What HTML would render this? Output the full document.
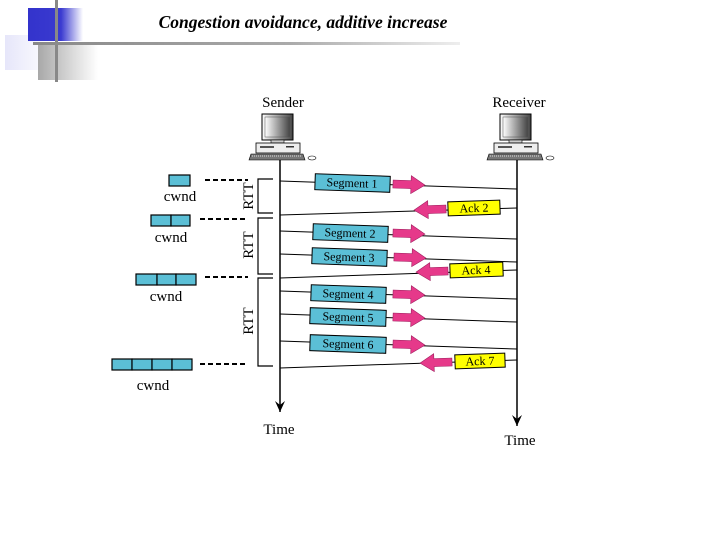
<!DOCTYPE html>
<html><head><meta charset="utf-8"><style>
html,body{margin:0;padding:0;background:#fff;width:720px;height:540px;overflow:hidden}
svg{display:block}
text{font-family:"Liberation Serif",serif}
</style></head><body>
<svg width="720" height="540" viewBox="0 0 720 540" xmlns="http://www.w3.org/2000/svg">
<defs>
<linearGradient id="gb" x1="0" x2="1"><stop offset="0" stop-color="#3333cc"/><stop offset="0.6" stop-color="#3a3ad0"/><stop offset="1" stop-color="#fff"/></linearGradient>
<linearGradient id="gl" x1="0" x2="1"><stop offset="0" stop-color="#e6e6fa"/><stop offset="1" stop-color="#fff"/></linearGradient>
<linearGradient id="gg" x1="0" x2="1"><stop offset="0" stop-color="#a8a8a8"/><stop offset="1" stop-color="#fff"/></linearGradient>
<linearGradient id="gh" x1="0" x2="1"><stop offset="0" stop-color="#888"/><stop offset="0.6" stop-color="#aaa"/><stop offset="1" stop-color="#eee"/></linearGradient>
<linearGradient id="mon" x1="0" x2="1"><stop offset="0" stop-color="#fff"/><stop offset="1" stop-color="#444"/></linearGradient>
<marker id="ah" markerWidth="12" markerHeight="10" refX="11" refY="5" orient="auto" markerUnits="userSpaceOnUse"><path d="M0,0 L11,5 L0,10 L4,5 Z" fill="#000"/></marker>
<g id="pc">
<rect x="0" y="0" width="31" height="26" fill="url(#mon)" stroke="#000"/>
<rect x="3" y="3" width="25" height="20" fill="url(#mon)" stroke="#555" stroke-width="0.5"/>
<rect x="9" y="26" width="13" height="3" fill="#ccc" stroke="#000" stroke-width="0.6"/>
<rect x="-6" y="29" width="44" height="10" fill="#eee" stroke="#000" stroke-width="0.8"/>
<rect x="-2" y="32" width="14" height="2" fill="#555"/>
<rect x="24" y="32" width="8" height="1.5" fill="#333"/>
<path d="M-11,40 L41,40 L43,46 L-13,46 Z" fill="#777" stroke="#000" stroke-width="0.6"/>
<path d="M-10,42 H40" stroke="#ddd" stroke-dasharray="1 1"/>
<ellipse cx="50" cy="44" rx="4" ry="2" fill="#fff" stroke="#000" stroke-width="0.6"/>
</g>
<g id="pr"><path d="M0,-4 H18 V-9 L32,0 L18,9 V4 H0 Z" fill="#e6398a" stroke="#a02060" stroke-width="0.6"/></g>
</defs>

<rect x="5" y="35" width="48" height="35" fill="url(#gl)"/>
<rect x="38" y="45" width="60" height="35" fill="url(#gg)"/>
<rect x="28" y="8" width="55" height="33" fill="url(#gb)"/>
<rect x="55" y="0" width="3" height="82" fill="#888"/>
<rect x="33" y="42" width="427" height="3" fill="url(#gh)"/>
<text x="303" y="28" font-size="17.5" font-weight="bold" font-style="italic" text-anchor="middle">Congestion avoidance, additive increase</text>

<use href="#pc" x="262" y="114"/>
<use href="#pc" x="500" y="114"/>
<text x="283" y="107" font-size="15" text-anchor="middle">Sender</text>
<text x="519" y="107" font-size="15" text-anchor="middle">Receiver</text>

<line x1="280" y1="160" x2="280" y2="412" stroke="#000" stroke-width="1.5" marker-end="url(#ah)"/>
<line x1="517" y1="160" x2="517" y2="426" stroke="#000" stroke-width="1.5" marker-end="url(#ah)"/>
<text x="279" y="434" font-size="15" text-anchor="middle">Time</text>
<text x="520" y="445" font-size="15" text-anchor="middle">Time</text>

<g stroke="#000" stroke-width="1">
<line x1="280" y1="181" x2="517" y2="189"/>
<line x1="517" y1="208" x2="280" y2="215"/>
<line x1="280" y1="231" x2="517" y2="239"/>
<line x1="280" y1="254" x2="517" y2="262"/>
<line x1="517" y1="270" x2="280" y2="278"/>
<line x1="280" y1="291" x2="517" y2="299"/>
<line x1="280" y1="314" x2="517" y2="322"/>
<line x1="280" y1="341" x2="517" y2="349"/>
<line x1="517" y1="360" x2="280" y2="368"/>
</g>

<g font-size="12" text-anchor="middle">
<g transform="rotate(2 352 184)"><rect x="315" y="175" width="75" height="16" fill="#5bbfd6" stroke="#000"/><text x="352" y="187">Segment 1</text></g>
<g transform="rotate(2 350 233)"><rect x="313" y="225" width="75" height="16" fill="#5bbfd6" stroke="#000"/><text x="350" y="237">Segment 2</text></g>
<g transform="rotate(2 349 257)"><rect x="312" y="249" width="75" height="16" fill="#5bbfd6" stroke="#000"/><text x="349" y="261">Segment 3</text></g>
<g transform="rotate(2 348 294)"><rect x="311" y="286" width="75" height="16" fill="#5bbfd6" stroke="#000"/><text x="348" y="298">Segment 4</text></g>
<g transform="rotate(2 348 317)"><rect x="310" y="309" width="76" height="16" fill="#5bbfd6" stroke="#000"/><text x="348" y="321">Segment 5</text></g>
<g transform="rotate(2 348 344)"><rect x="310" y="336" width="76" height="16" fill="#5bbfd6" stroke="#000"/><text x="348" y="348">Segment 6</text></g>

<g transform="rotate(-2 474 208)"><rect x="448" y="201" width="52" height="14" fill="#ffff00" stroke="#000"/><text x="474" y="212">Ack 2</text></g>
<g transform="rotate(-2 476 270)"><rect x="450" y="263" width="53" height="14" fill="#ffff00" stroke="#000"/><text x="476" y="274">Ack 4</text></g>
<g transform="rotate(-2 480 361)"><rect x="455" y="354" width="50" height="14" fill="#ffff00" stroke="#000"/><text x="480" y="365">Ack 7</text></g>
</g>

<use href="#pr" transform="translate(393,184) rotate(2)"/>
<use href="#pr" transform="translate(393,233) rotate(2)"/>
<use href="#pr" transform="translate(394,257) rotate(2)"/>
<use href="#pr" transform="translate(393,294) rotate(2)"/>
<use href="#pr" transform="translate(393,317) rotate(2)"/>
<use href="#pr" transform="translate(393,344) rotate(2)"/>
<use href="#pr" transform="translate(446,209) rotate(178)"/>
<use href="#pr" transform="translate(448,271) rotate(178)"/>
<use href="#pr" transform="translate(452,362) rotate(178)"/>

<g stroke="#000" stroke-width="1.2" fill="none">
<path d="M273,179 H258 V213 H273"/>
<path d="M273,218 H258 V274 H273"/>
<path d="M273,278 H258 V366 H273"/>
</g>
<g font-size="15" text-anchor="middle">
<text transform="translate(253,196) rotate(-90)">RTT</text>
<text transform="translate(253,245) rotate(-90)">RTT</text>
<text transform="translate(253,321) rotate(-90)">RTT</text>
</g>

<g fill="#5bbfd6" stroke="#000" stroke-width="1.2">
<rect x="169" y="175" width="21" height="11"/>
<rect x="151" y="215" width="20" height="11"/><rect x="171" y="215" width="19" height="11"/>
<rect x="136" y="274" width="21" height="11"/><rect x="157" y="274" width="19" height="11"/><rect x="176" y="274" width="20" height="11"/>
<rect x="112" y="359" width="20" height="11"/><rect x="132" y="359" width="20" height="11"/><rect x="152" y="359" width="20" height="11"/><rect x="172" y="359" width="20" height="11"/>
</g>
<g font-size="15" text-anchor="middle">
<text x="180" y="201">cwnd</text>
<text x="171" y="242">cwnd</text>
<text x="166" y="301">cwnd</text>
<text x="153" y="390">cwnd</text>
</g>
<g stroke="#000" stroke-width="2" stroke-dasharray="5 3">
<line x1="205" y1="180" x2="248" y2="180"/>
<line x1="200" y1="219" x2="248" y2="219"/>
<line x1="205" y1="277" x2="248" y2="277"/>
<line x1="200" y1="364" x2="248" y2="364"/>
</g>
</svg>
</body></html>
